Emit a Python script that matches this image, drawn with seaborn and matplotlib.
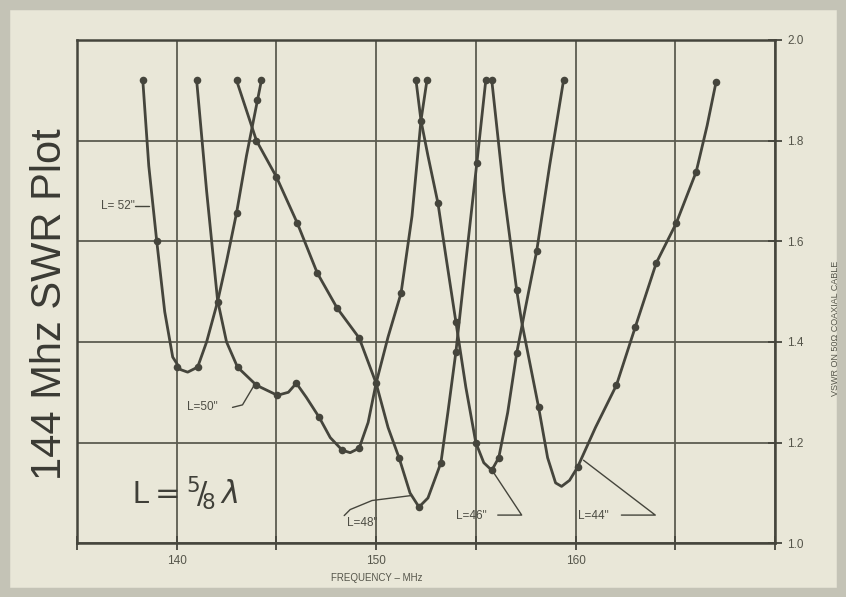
import numpy as np
import pandas as pd
import matplotlib
matplotlib.use("Agg")
import matplotlib.pyplot as plt
import seaborn as sns
from matplotlib.patches import Rectangle

# --- dados (MHz, VSWR) ---
LABELS = ['L=52"', 'L=50"', 'L=48"', 'L=46"', 'L=44"']

# tracado de cada curva
F52 = [138.3, 138.6, 139.0, 139.4, 139.8, 140.2, 140.55, 141.05, 141.5, 142.05, 142.5, 143.0, 143.5, 144.05, 144.25]
S52 = [1.92, 1.75, 1.60, 1.46, 1.37, 1.345, 1.34, 1.35, 1.40, 1.48, 1.56, 1.656, 1.77, 1.88, 1.92]

F50 = [141.0, 141.5, 142.05, 142.5, 143.05, 144.0, 145.05, 145.6, 146.0, 146.5, 147.15, 147.7, 148.3, 148.7,
       149.15, 149.6, 150.0, 150.6, 151.25, 151.8, 152.25, 152.55]
S50 = [1.92, 1.70, 1.483, 1.40, 1.35, 1.314, 1.294, 1.30, 1.318, 1.29, 1.25, 1.21, 1.185, 1.18,
       1.189, 1.24, 1.318, 1.41, 1.497, 1.65, 1.84, 1.92]

F48 = [143.0, 143.5, 144.0, 145.0, 146.05, 147.05, 148.05, 149.15, 150.0, 150.6, 151.15, 151.7, 152.15,
       152.6, 153.25, 153.6, 154.0, 154.5, 155.05, 155.5]
S48 = [1.92, 1.86, 1.80, 1.728, 1.636, 1.537, 1.467, 1.408, 1.318, 1.23, 1.17, 1.10, 1.072,
       1.09, 1.16, 1.26, 1.38, 1.56, 1.755, 1.92]

F46 = [152.0, 152.25, 152.6, 153.1, 153.5, 154.0, 154.5, 155.0, 155.4, 155.8, 156.15, 156.6, 157.05,
       157.5, 158.05, 158.7, 159.4]
S46 = [1.92, 1.84, 1.77, 1.676, 1.57, 1.44, 1.31, 1.20, 1.16, 1.145, 1.17, 1.26, 1.378,
       1.47, 1.58, 1.75, 1.92]

F44 = [155.8, 156.4, 157.05, 157.3, 158.15, 158.6, 159.0, 159.3, 159.7, 160.1, 161.0, 162.05, 163.0,
       164.05, 165.05, 166.05, 166.6, 167.05]
S44 = [1.92, 1.70, 1.503, 1.44, 1.27, 1.17, 1.12, 1.113, 1.125, 1.151, 1.23, 1.314, 1.43,
       1.557, 1.636, 1.738, 1.83, 1.917]

# pontos medidos (marcadores)
D52_F = [138.3, 139.0, 140.0, 141.05, 142.05, 143.0, 144.05, 144.25]
D52_S = [1.92, 1.60, 1.35, 1.35, 1.48, 1.656, 1.88, 1.92]
D50_F = [141.0, 143.05, 144.0, 145.05, 146.0, 147.15, 148.3, 149.15, 150.0, 151.25, 152.25, 152.55]
D50_S = [1.92, 1.35, 1.314, 1.294, 1.318, 1.25, 1.185, 1.189, 1.318, 1.497, 1.84, 1.92]
D48_F = [143.0, 144.0, 145.0, 146.05, 147.05, 148.05, 149.15, 151.15, 152.15, 153.25, 154.0, 155.05, 155.5]
D48_S = [1.92, 1.80, 1.728, 1.636, 1.537, 1.467, 1.408, 1.17, 1.072, 1.16, 1.38, 1.755, 1.92]
D46_F = [152.0, 153.1, 154.0, 155.0, 155.8, 156.15, 157.05, 158.05, 159.4]
D46_S = [1.92, 1.676, 1.44, 1.20, 1.145, 1.17, 1.378, 1.58, 1.92]
D44_F = [155.8, 157.05, 158.15, 160.1, 162.05, 163.0, 164.05, 165.05, 166.05, 167.05]
D44_S = [1.92, 1.503, 1.27, 1.151, 1.314, 1.43, 1.557, 1.636, 1.738, 1.917]

X_TICKS = [140, 150, 160]
Y_TICKS = [1.0, 1.2, 1.4, 1.6, 1.8, 2.0]

INK = "#45453c"
PAPER = "#e9e7d8"


def main():
    sns.set_theme(style="ticks")
    plt.rcParams['font.family'] = ['Liberation Sans', 'DejaVu Sans']

    curves = pd.concat([
        pd.DataFrame({"freq": f, "swr": s, "curva": lab})
        for lab, f, s in zip(LABELS, [F52, F50, F48, F46, F44], [S52, S50, S48, S46, S44])
    ])
    dots = pd.concat([
        pd.DataFrame({"freq": f, "swr": s, "curva": lab})
        for lab, f, s in zip(LABELS, [D52_F, D50_F, D48_F, D46_F, D44_F], [D52_S, D50_S, D48_S, D46_S, D44_S])
    ])

    fig = plt.figure(figsize=(8.46, 5.97), dpi=100, facecolor=PAPER)
    # borda escura do scan
    fig.patches.append(Rectangle((0, 0), 1, 1, transform=fig.transFigure, fill=False,
                                 edgecolor="#c4c3b6", lw=14, zorder=0))
    ax = fig.add_axes([0.091, 0.090, 0.825, 0.843])
    ax.set_facecolor(PAPER)

    for lab in LABELS:
        sub = curves[curves["curva"] == lab]
        sns.lineplot(data=sub, x="freq", y="swr", sort=False, estimator=None,
                     color=INK, lw=2.0, ax=ax, zorder=3)
    sns.scatterplot(data=dots, x="freq", y="swr", color=INK, s=30, edgecolor=INK,
                    linewidth=0, ax=ax, zorder=4)

    ax.set_xlim(135, 170)
    ax.set_ylim(1.0, 2.0)

    # grade
    ax.set_xticks(np.arange(135, 171, 5))
    ax.set_xticklabels(["" if t not in X_TICKS else str(t) for t in range(135, 171, 5)])
    ax.set_yticks(Y_TICKS)
    ax.set_yticklabels([f"{v:.1f}" for v in Y_TICKS])
    ax.grid(True, color="#5c5c50", lw=1.3)
    ax.yaxis.tick_right()
    ax.tick_params(axis="both", direction="inout", length=10, width=1.3, color=INK,
                   labelsize=8.5, labelcolor="#55554a")
    ax.tick_params(axis="y", pad=4)
    for sp in ax.spines.values():
        sp.set_color(INK)
        sp.set_linewidth(1.8)

    ax.set_xlabel("FREQUENCY \u2013 MHz", fontsize=7, color="#55554a")
    ax.xaxis.set_label_coords(0.43, -0.06)
    ax.set_ylabel("")

    # rotulos das curvas
    kw = dict(fontsize=8.5, color="#4d4d44")
    ax.text(137.9, 1.67, 'L= 52"', ha="right", va="center", **kw)
    ax.plot([137.9, 138.6], [1.67, 1.67], color=INK, lw=1)
    ax.text(141.3, 1.27, 'L=50"', ha="center", va="center", **kw)
    ax.plot([142.8, 143.3, 143.9], [1.27, 1.275, 1.315], color=INK, lw=1)
    ax.text(149.3, 1.04, 'L=48"', ha="center", va="center", **kw)
    ax.plot([148.4, 148.7, 149.8, 151.8], [1.055, 1.067, 1.085, 1.095], color=INK, lw=1)
    ax.text(154.8, 1.054, 'L=46"', ha="center", va="center", **kw)
    ax.plot([156.1, 157.3, 155.9], [1.056, 1.056, 1.14], color=INK, lw=1)
    ax.text(160.9, 1.054, 'L=44"', ha="center", va="center", **kw)
    ax.plot([162.3, 164.0, 160.4], [1.056, 1.056, 1.165], color=INK, lw=1)

    ax.text(140.4, 1.10, r"L$=$$^{5}\!/\!_{8}\,\lambda$", fontsize=22, color="#3f3f38",
            ha="center", va="center")

    fig.text(0.059, 0.49, "144 Mhz SWR Plot", rotation=90, fontsize=30, color="#3a3a34",
             ha="center", va="center")
    fig.text(0.988, 0.45, "VSWR ON 50\u2126 COAXIAL CABLE", rotation=90, fontsize=6.5,
             color="#55554a", ha="center", va="center")

    fig.savefig("out.png", dpi=100, facecolor=PAPER)


if __name__ == "__main__":
    main()
